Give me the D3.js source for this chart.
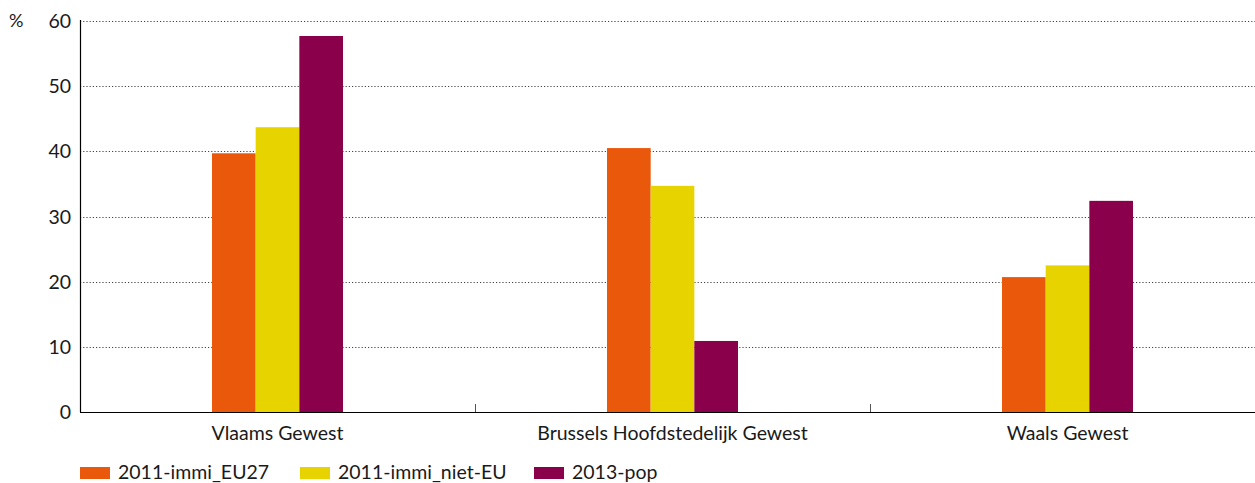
<!DOCTYPE html>
<html>
<head>
<meta charset="utf-8">
<script src="https://cdn.jsdelivr.net/npm/d3@7"></script>
<style>
body { margin: 0; background: #fff; }
text { font-family: Lato, "Open Sans", sans-serif; fill: #1a1a1a; }
</style>
</head>
<body>
<svg id="chart"></svg>
<script>
const WIDTH = 1255;
const HEIGHT = 483;
// data
const regions = ["Vlaams Gewest", "Brussels Hoofdstedelijk Gewest", "Waals Gewest"];
const seriesNames = ["2011-immi_EU27", "2011-immi_niet-EU", "2013-pop"];
const immiEU27 = [39.7, 40.5, 20.7];
const immiNietEU = [43.7, 34.7, 22.5];
const pop2013 = [57.7, 10.9, 32.4];
const yTicks = [0, 10, 20, 30, 40, 50, 60];
const colors = ["#EA580C", "#E6D300", "#8B004B"];

const seriesValues = [immiEU27, immiNietEU, pop2013];

const svg = d3.select("#chart").attr("width", WIDTH).attr("height", HEIGHT);
const plotLeft = 80, plotTop = 21, plotBottom = 412, plotRight = 1265;

const x = d3.scaleBand().domain(regions).range([plotLeft, plotRight]).padding(0);
const y = d3.scaleLinear().domain([0, 60]).range([plotBottom, plotTop]);
const groupWidth = 131;
const xs = d3.scaleBand().domain(seriesNames).range([0, groupWidth]).padding(0);

// gridlines
svg.append("g")
    .selectAll("line")
    .data(yTicks.filter(t => t > 0))
    .enter()
    .append("line")
    .attr("x1", plotLeft)
    .attr("x2", WIDTH)
    .attr("y1", d => Math.round(y(d)) + 0.5)
    .attr("y2", d => Math.round(y(d)) + 0.5)
    .attr("stroke", "#444")
    .attr("stroke-width", 1)
    .attr("stroke-dasharray", "1.2,2");

// y labels
svg.append("g")
    .selectAll("text")
    .data(yTicks)
    .enter()
    .append("text")
    .attr("x", 71)
    .attr("y", d => y(d) + 7)
    .attr("text-anchor", "end")
    .style("font-size", "19.5px")
    .text(d => d);

svg.append("text")
    .attr("x", 9)
    .attr("y", 27)
    .style("font-size", "18px")
    .text("%");

// bars
const groups = svg.append("g")
    .selectAll("g")
    .data(regions)
    .enter()
    .append("g")
    .attr("transform", d => "translate(" + (x(d) + x.bandwidth() / 2 - groupWidth / 2) + ",0)");

groups.selectAll("rect")
    .data((d, i) => seriesNames.map((s, j) => ({ s: s, v: seriesValues[j][i], c: colors[j] })))
    .enter()
    .append("rect")
    .attr("x", d => xs(d.s))
    .attr("width", xs.bandwidth())
    .attr("y", d => y(d.v))
    .attr("height", d => plotBottom - y(d.v))
    .attr("fill", d => d.c);

// axes
svg.append("line")
    .attr("x1", plotLeft + 0.5).attr("x2", plotLeft + 0.5)
    .attr("y1", plotTop - 1).attr("y2", plotBottom)
    .attr("stroke", "#000").attr("stroke-width", 1.2);
svg.append("line")
    .attr("x1", plotLeft).attr("x2", WIDTH)
    .attr("y1", plotBottom + 0.5).attr("y2", plotBottom + 0.5)
    .attr("stroke", "#000").attr("stroke-width", 1.2);

// category separators
svg.append("g")
    .selectAll("line")
    .data(regions.slice(1))
    .enter()
    .append("line")
    .attr("x1", d => x(d) + 0.5)
    .attr("x2", d => x(d) + 0.5)
    .attr("y1", plotBottom - 8)
    .attr("y2", plotBottom)
    .attr("stroke", "#555");

svg.append("g")
    .selectAll("text")
    .data(regions)
    .enter()
    .append("text")
    .attr("x", d => x(d) + x.bandwidth() / 2)
    .attr("y", 440)
    .attr("text-anchor", "middle")
    .style("font-size", "19.5px")
    .text(d => d);

// legend
const legendX = [80, 300, 534];
const legend = svg.append("g")
    .selectAll("g")
    .data(seriesNames)
    .enter()
    .append("g")
    .attr("transform", (d, i) => "translate(" + legendX[i] + ",0)");
legend.append("rect")
    .attr("x", 0).attr("y", 467)
    .attr("width", 30).attr("height", 12)
    .attr("fill", (d, i) => colors[i]);
legend.append("text")
    .attr("x", 38).attr("y", 479)
    .style("font-size", "19.5px")
    .text(d => d);
</script>
</body>
</html>
